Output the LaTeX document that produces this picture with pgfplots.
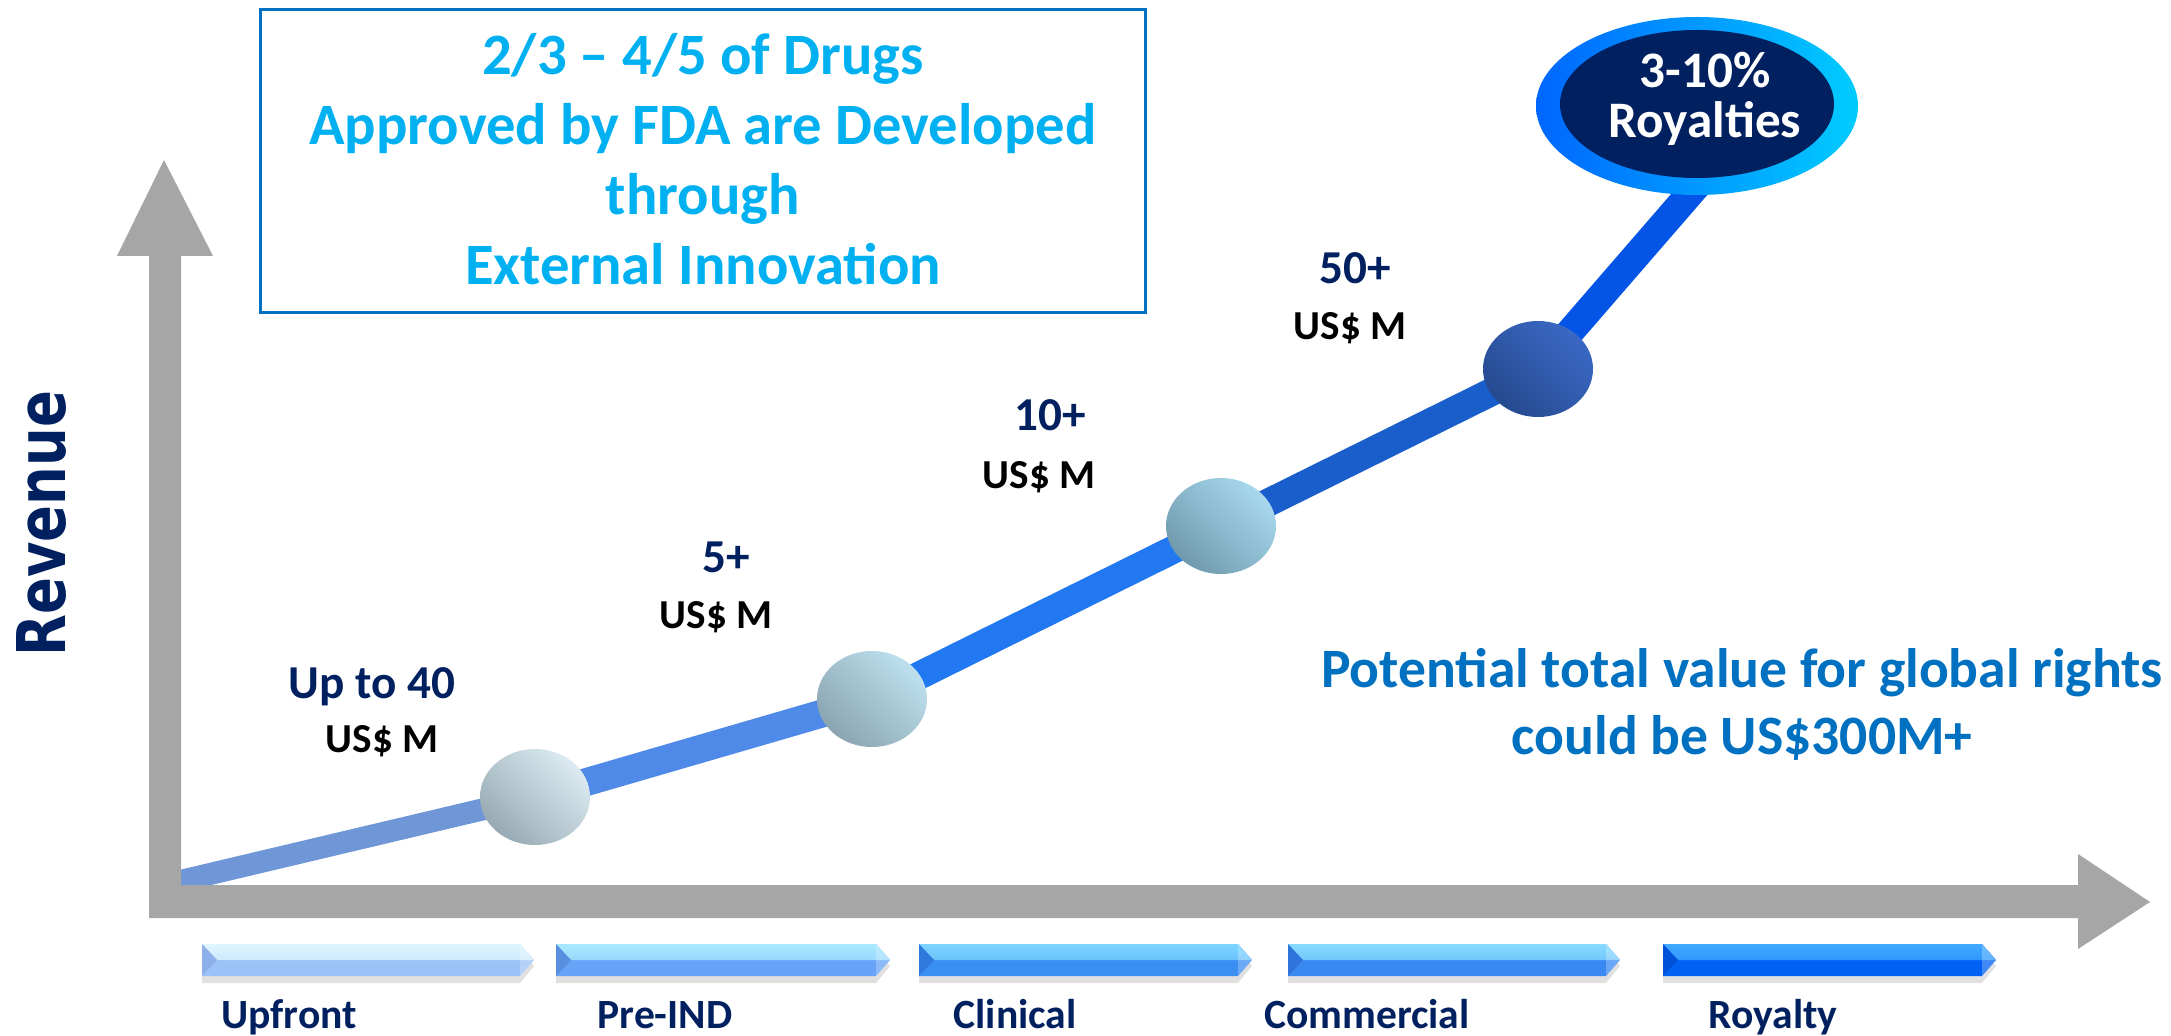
\documentclass[border=0pt]{standalone}
\usepackage{pgfplots}
\pgfplotsset{compat=1.18}
\usepackage{graphicx}
\usepackage{fontspec}
\setmainfont{Carlito}
\newfontfamily\revfont{DejaVu Sans}
\definecolor{navy}{HTML}{002060}
\definecolor{cyanT}{HTML}{00B0F0}
\definecolor{blueT}{HTML}{0070C0}
\definecolor{axgray}{HTML}{A6A6A6}
\definecolor{segA}{HTML}{6F96D6}
\definecolor{segB}{HTML}{4F8AE8}
\definecolor{segC}{HTML}{2278F0}
\definecolor{segD}{HTML}{1A5ECC}
\definecolor{segE}{HTML}{0455E6}
\definecolor{cAL}{HTML}{DCEBF2}\definecolor{cAD}{HTML}{97AAB3}
\definecolor{cBL}{HTML}{BEE0EE}\definecolor{cBD}{HTML}{8AA5B1}
\definecolor{cCL}{HTML}{A8D8EE}\definecolor{cCD}{HTML}{6F9AAC}
\definecolor{cDL}{HTML}{3A68C4}\definecolor{cDD}{HTML}{254A8F}
\definecolor{ringL}{HTML}{0066FF}\definecolor{ringR}{HTML}{00CCFF}
% chevron colours
\definecolor{uT}{HTML}{DDF6FF}\definecolor{uB}{HTML}{9CC3F7}\definecolor{uL}{HTML}{8DB0EA}
\definecolor{pT}{HTML}{A9E9FF}\definecolor{pB}{HTML}{67A4F7}\definecolor{pL}{HTML}{5A8FE0}
\definecolor{kT}{HTML}{7CD4FF}\definecolor{kB}{HTML}{3B8EF2}\definecolor{kL}{HTML}{2F78DC}
\definecolor{mT}{HTML}{86DBFF}\definecolor{mB}{HTML}{3A88F2}\definecolor{mL}{HTML}{2E74DA}
\definecolor{rT}{HTML}{40A9FF}\definecolor{rB}{HTML}{0062F5}\definecolor{rL}{HTML}{0050D8}
% #1 x0, #2 body end, #3 tip, #4 left apex, #5 top, #6 bottom, #7 left
\newcommand{\chev}[7]{%
  \fill[black,opacity=0.12] (axis cs:#1,950) -- (axis cs:#2,950) -- (axis cs:#3,966) -- (axis cs:#2,983) -- (axis cs:#1,983) -- cycle;
  \fill[#6] (axis cs:#1,944) -- (axis cs:#2,944) -- (axis cs:#3,960) -- (axis cs:#2,976) -- (axis cs:#1,976) -- cycle;
  \shade[top color=#5, bottom color=#5!75!#6] (axis cs:#1,944) -- (axis cs:#2,944) -- (axis cs:#3,960) -- (axis cs:#1,960) -- cycle;
  \fill[#7] (axis cs:#1,944) -- (axis cs:#4,960) -- (axis cs:#1,976) -- cycle;
  \fill[white,opacity=0.25] (axis cs:#2,944) -- (axis cs:#3,960) -- (axis cs:#2,976) -- cycle;
}
\pgfplotsset{ball/.style n args={3}{scatter, only marks, mark=*, mark size=0pt, mark options={draw=none},
  scatter/@pre marker code/.code={\shade[draw=none, top color=#1, bottom color=#2, shading angle=-45] (0,0) ellipse [x radius=#3, y radius=12pt];},
  scatter/@post marker code/.code={}}}
\begin{document}
\begin{tikzpicture}
\begin{axis}[width=542.75pt, height=259pt, scale only axis,
  xmin=0, xmax=2171, ymin=0, ymax=1036, y dir=reverse,
  axis lines=none, ticks=none, clip=false]
% rising line
\addplot[mark=none, color=segA, line width=5.5pt] coordinates {(172,883) (535,797)};
\addplot[mark=none, color=segB, line width=7pt] coordinates {(535,797) (872,699)};
\addplot[mark=none, color=segC, line width=7pt] coordinates {(872,699) (1221,526)};
\addplot[mark=none, color=segD, line width=7pt] coordinates {(1221,526) (1538,369)};
\addplot[mark=none, color=segE, line width=7pt] coordinates {(1538,369) (1700,182)};
% axes arrows
\addplot[mark=none, fill=axgray, draw=none] coordinates {(149,918) (2078,918) (2078,949) (2150,902) (2078,854) (2078,885) (181,885) (181,256) (213,256) (164,160) (117,256) (149,256)} -- cycle;
% milestone balls
\addplot[ball={cAL}{cAD}{13.75pt}] coordinates {(535,797)};
\addplot[ball={cBL}{cBD}{13.75pt}] coordinates {(872,699)};
\addplot[ball={cCL}{cCD}{13.75pt}] coordinates {(1221,526)};
\addplot[ball={cDL}{cDD}{13.75pt}] coordinates {(1538,369)};
\addplot[scatter, only marks, mark=*, mark size=0pt, mark options={draw=none},
  scatter/@pre marker code/.code={\shade[draw=none, left color=ringL, right color=ringR] (0,0) ellipse [x radius=40.25pt, y radius=22.25pt];
     \fill[navy, draw=none] (0,0.5pt) ellipse [x radius=34.25pt, y radius=18.5pt];
     \node[anchor=base, text=white, font=\fontsize{12.8pt}{14pt}\selectfont\bfseries] at (2pt,4.5pt) {3-10\%};
     \node[anchor=base, text=white, font=\fontsize{12.8pt}{14pt}\selectfont\bfseries] at (2pt,-8pt) {Royalties};},
  scatter/@post marker code/.code={}] coordinates {(1697,106)};
% milestone labels
\tikzset{num/.style={anchor=base, text=navy, font=\fontsize{11.8pt}{14pt}\selectfont\bfseries},
         usd/.style={anchor=base, text=black, font=\fontsize{10.3pt}{12pt}\selectfont\bfseries},
         stage/.style={anchor=base, text=navy, font=\fontsize{10.4pt}{12pt}\selectfont\bfseries},
         boxt/.style={anchor=base, text=cyanT, font=\fontsize{14.65pt}{17pt}\selectfont\bfseries}}
\node[num] at (axis cs:372,698) {Up to 40};
\node[usd] at (axis cs:382,752) {US\$ M};
\node[num] at (axis cs:726,572) {5+};
\node[usd] at (axis cs:716,628) {US\$ M};
\node[num] at (axis cs:1050,430) {10+};
\node[usd] at (axis cs:1039,488) {US\$ M};
\node[num] at (axis cs:1355,284) {50+};
\node[usd] at (axis cs:1350,340) {US\$ M};
% potential value
\node[anchor=base, text=blueT, font=\fontsize{13.9pt}{16pt}\selectfont\bfseries] at (axis cs:1742,687) {Potential total value for global rights};
\node[anchor=base, text=blueT, font=\fontsize{13.9pt}{16pt}\selectfont\bfseries] at (axis cs:1742,754) {could be US\$300M+};
% box
\draw[blueT, line width=0.75pt] (axis cs:260,10) rectangle (axis cs:1145,313);
\node[boxt] at (axis cs:703,75) {2/3 – 4/5 of Drugs};
\node[boxt] at (axis cs:703,145) {Approved by FDA are Developed};
\node[boxt] at (axis cs:703,215) {through};
\node[boxt] at (axis cs:703,285) {External Innovation};
% Revenue
\node[rotate=90, text=navy, inner sep=0pt] at (axis cs:41.5,523.5) {\scalebox{0.81}[1]{\revfont\fontsize{16.8pt}{18pt}\selectfont\bfseries Revenue}};
% chevrons
\chev{202}{520}{534}{217}{uT}{uB}{uL}
\chev{556}{876}{890}{571}{pT}{pB}{pL}
\chev{919}{1238}{1252}{934}{kT}{kB}{kL}
\chev{1288}{1606}{1620}{1303}{mT}{mB}{mL}
\chev{1663}{1982}{1996}{1678}{rT}{rB}{rL}
\node[stage] at (axis cs:289,1028) {Upfront};
\node[stage] at (axis cs:665,1028) {Pre-IND};
\node[stage] at (axis cs:1015,1028) {Clinical};
\node[stage] at (axis cs:1367,1028) {Commercial};
\node[stage] at (axis cs:1773,1028) {Royalty};
\end{axis}
\pgfresetboundingbox
\path[use as bounding box] (current axis.south west) rectangle (current axis.north east);
\end{tikzpicture}
\end{document}
